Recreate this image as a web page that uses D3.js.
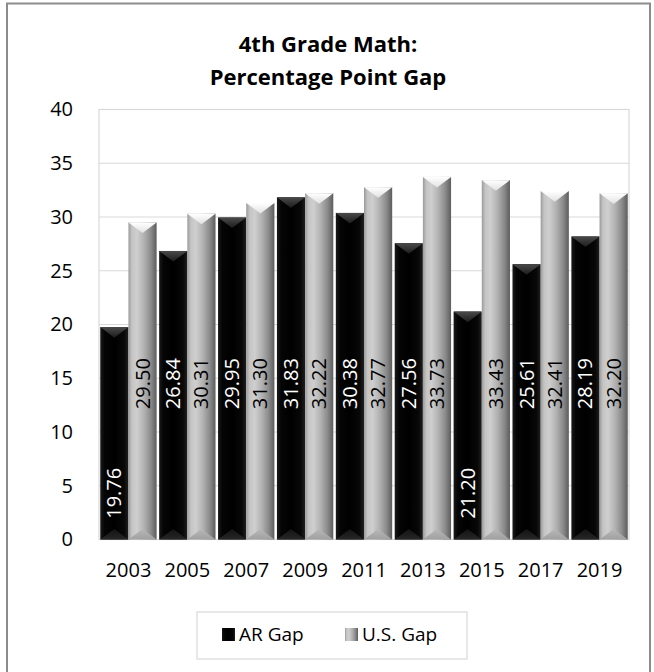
<!DOCTYPE html>
<html>
<head>
<meta charset="utf-8">
<script src="https://cdn.jsdelivr.net/npm/d3@7"></script>
<style>
  html, body { margin: 0; padding: 0; background: #fff; }
  svg text { font-family: "Open Sans", "Noto Sans", sans-serif; }
</style>
</head>
<body>
<svg id="chart" width="654" height="672"></svg>
<script>
// 4th grade math: percentage point gap, Arkansas vs. national
const years = ["2003", "2005", "2007", "2009", "2011", "2013", "2015", "2017", "2019"];
const arGap = [19.76, 26.84, 29.95, 31.83, 30.38, 27.56, 21.20, 25.61, 28.19];
const usGap = [29.50, 30.31, 31.30, 32.22, 32.77, 33.73, 33.43, 32.41, 32.20];
const seriesNames = ["AR Gap", "U.S. Gap"];
const yTicks = [0, 5, 10, 15, 20, 25, 30, 35, 40];
const titleLines = ["4th Grade Math:", "Percentage Point Gap"];

const svg = d3.select("#chart");
const W = 654, H = 672;
const plot = { left: 99, right: 629, top: 109.5, bottom: 539.5 };

svg.append("rect").attr("width", W).attr("height", H).attr("fill", "#fff");

// outer chart frame
svg.append("rect")
  .attr("x", 7).attr("y", 3.5).attr("width", 643).attr("height", 700)
  .attr("fill", "none").attr("stroke", "#8c8c8c").attr("stroke-width", 2);

// gradients for the bevelled bars
const defs = svg.append("defs");
function hGrad(id, stops) {
  const g = defs.append("linearGradient").attr("id", id)
    .attr("x1", "0%").attr("x2", "100%").attr("y1", "0%").attr("y2", "0%");
  stops.forEach(([o, c]) => g.append("stop").attr("offset", o).attr("stop-color", c));
}
function vGrad(id, stops) {
  const g = defs.append("linearGradient").attr("id", id)
    .attr("x1", "0%").attr("x2", "0%").attr("y1", "0%").attr("y2", "100%");
  stops.forEach(([o, c]) => g.append("stop").attr("offset", o).attr("stop-color", c));
}
hGrad("usBody", [["0%", "#9a9a9a"], ["12%", "#c4c4c4"], ["30%", "#cfcfcf"], ["55%", "#b2b2b2"], ["80%", "#8a8a8a"], ["100%", "#5c5c5c"]]);
vGrad("usTop", [["0%", "#ffffff"], ["100%", "#e2e2e2"]]);
vGrad("usBot", [["0%", "#b8b8b8"], ["100%", "#a0a0a0"]]);
hGrad("arBody", [["0%", "#1a1a1a"], ["15%", "#050505"], ["50%", "#000000"], ["85%", "#080808"], ["100%", "#202020"]]);
vGrad("arTop", [["0%", "#4a4a4a"], ["100%", "#1c1c1c"]]);
vGrad("arBot", [["0%", "#141414"], ["100%", "#262626"]]);

// scales
const x0 = d3.scaleBand().domain(years).range([plot.left, plot.right]).paddingInner(0).paddingOuter(0);
const x1 = d3.scaleBand().domain(seriesNames).range([0, x0.bandwidth()]).paddingInner(0).paddingOuter(0.045);
const y = d3.scaleLinear().domain([0, 40]).range([plot.bottom, plot.top]);

// gridlines and plot frame
svg.append("g").selectAll("line").data(yTicks).join("line")
  .attr("x1", plot.left).attr("x2", plot.right)
  .attr("y1", d => y(d)).attr("y2", d => y(d))
  .attr("stroke", "#d9d9d9").attr("stroke-width", 1.2);
svg.append("rect")
  .attr("x", plot.left).attr("y", plot.top)
  .attr("width", plot.right - plot.left).attr("height", plot.bottom - plot.top)
  .attr("fill", "none").attr("stroke", "#d9d9d9").attr("stroke-width", 1.2);

// y axis labels
const yAxis = d3.axisLeft(y).tickValues(yTicks).tickSize(0).tickPadding(0);
const gy = svg.append("g").attr("transform", `translate(73,0)`).call(yAxis);
gy.select(".domain").remove();
gy.selectAll("text").attr("font-size", 20).attr("fill", "#000").attr("font-family", "Open Sans");

// x axis labels
const xAxis = d3.axisBottom(x0).tickSize(0).tickPadding(0);
const gx = svg.append("g").attr("transform", `translate(0,${plot.bottom + 23.5})`).call(xAxis);
gx.select(".domain").remove();
gx.selectAll("text").attr("font-size", 20).attr("fill", "#000").attr("font-family", "Open Sans");

// bevelled bar drawing
function drawBar(g, bx, by, bw, bh, kind) {
  const d = Math.min(bw / 2 * 0.75, bh / 2);
  g.append("rect").attr("x", bx).attr("y", by).attr("width", bw).attr("height", bh)
    .attr("fill", `url(#${kind}Body)`);
  g.append("polygon")
    .attr("points", [[bx, by], [bx + bw, by], [bx + bw / 2, by + d]].map(p => p.join(",")).join(" "))
    .attr("fill", `url(#${kind}Top)`);
  g.append("polygon")
    .attr("points", [[bx, by + bh], [bx + bw, by + bh], [bx + bw / 2, by + bh - d]].map(p => p.join(",")).join(" "))
    .attr("fill", `url(#${kind}Bot)`);
}

const rows = years.map((yr, i) => ({ year: yr, values: [
  { key: "AR Gap", kind: "ar", v: arGap[i] },
  { key: "U.S. Gap", kind: "us", v: usGap[i] }
]}));

const barsG = svg.append("g");
rows.forEach(r => {
  r.values.forEach(s => {
    const bx = x0(r.year) + x1(s.key);
    const bw = x1.bandwidth();
    drawBar(barsG, bx, y(s.v), bw, y(0) - y(s.v), s.kind);
  });
});

// value labels, rotated inside each bar
const labelsG = svg.append("g");
rows.forEach(r => {
  r.values.forEach(s => {
    const cx = x0(r.year) + x1(s.key) + x1.bandwidth() / 2;
    const cy = s.v < 22 ? y(4.3) : y(14.5);
    labelsG.append("text")
      .attr("transform", `translate(${cx + 7},${cy}) rotate(-90)`)
      .attr("text-anchor", "middle")
      .attr("font-size", 20)
      .attr("fill", s.kind === "ar" ? "#fff" : "#000")
      .text(s.v.toFixed(2));
  });
});

// title
svg.append("g").selectAll("text").data(titleLines).join("text")
  .attr("x", W / 2 + 1).attr("y", (d, i) => 52 + i * 33)
  .attr("text-anchor", "middle").attr("font-weight", "bold")
  .attr("font-size", 22).attr("fill", "#000")
  .text(d => d);

// legend
const legend = svg.append("g");
legend.append("rect").attr("x", 197).attr("y", 612).attr("width", 270).attr("height", 47)
  .attr("fill", "none").attr("stroke", "#d9d9d9").attr("stroke-width", 1.2);
const legendItems = [
  { name: seriesNames[0], kind: "ar", x: 222 },
  { name: seriesNames[1], kind: "us", x: 345 }
];
legendItems.forEach(it => {
  legend.append("rect").attr("x", it.x).attr("y", 628).attr("width", 13).attr("height", 13)
    .attr("fill", `url(#${it.kind}Body)`);
  legend.append("text").attr("x", it.x + 17).attr("y", 641)
    .attr("font-size", 19).attr("fill", "#000").text(it.name);
});
</script>
</body>
</html>
